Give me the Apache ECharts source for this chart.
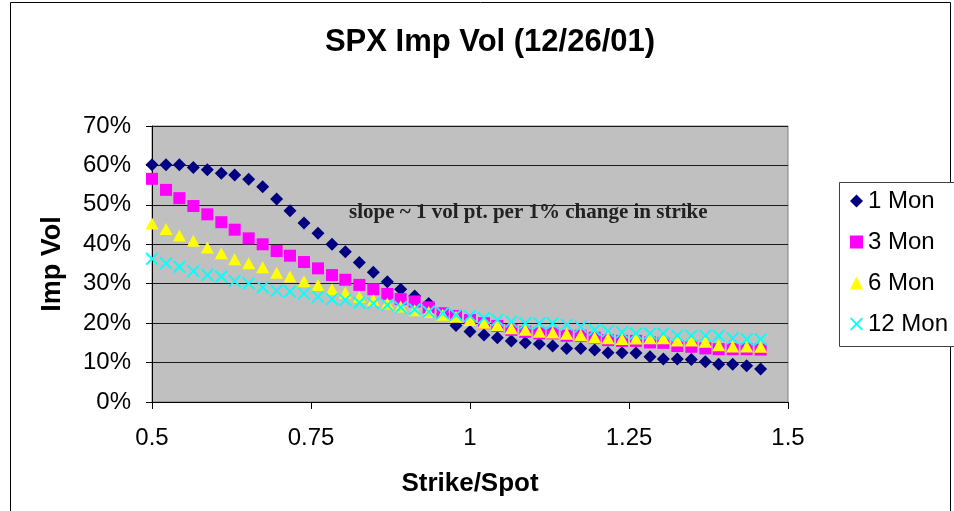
<!DOCTYPE html>
<html>
<head>
<meta charset="utf-8">
<script src="https://cdn.jsdelivr.net/npm/echarts@6/dist/echarts.min.js"></script>
<style>
  html, body { margin: 0; padding: 0; background: #fff; }
  #volChart { width: 954px; height: 511px; }
</style>
</head>
<body>
<div id="volChart"></div>
<script>
// strike / spot (25 pt strikes, spot ~1150)
const strikeSpot = [
  0.500, 0.522, 0.543, 0.565, 0.587, 0.609, 0.630, 0.652, 0.674, 0.696,
  0.717, 0.739, 0.761, 0.783, 0.804, 0.826, 0.848, 0.870, 0.891, 0.913,
  0.935, 0.957, 0.978, 1.000, 1.022, 1.043, 1.065, 1.087, 1.109, 1.130,
  1.152, 1.174, 1.196, 1.217, 1.239, 1.261, 1.283, 1.304, 1.326, 1.348,
  1.370, 1.391, 1.413, 1.435, 1.457
];
// implied vol, in %
const oneMon = [
  60.2, 60.2, 60.2, 59.5, 58.9, 58.0, 57.6, 56.5, 54.6, 51.5,
  48.5, 45.4, 42.8, 40.0, 38.1, 35.4, 32.9, 30.5, 28.6, 26.9,
  25.0, 22.3, 19.4, 17.9, 17.0, 16.3, 15.5, 15.0, 14.7, 14.2,
  13.6, 13.6, 13.2, 12.5, 12.5, 12.4, 11.5, 10.9, 10.9, 10.8,
  10.2, 9.6, 9.6, 9.2, 8.4
];
const threeMon = [
  56.6, 53.8, 51.7, 49.7, 47.6, 45.6, 43.7, 41.5, 40.0, 38.3,
  37.1, 35.5, 33.9, 32.2, 31.0, 29.7, 28.6, 27.4, 26.1, 25.5,
  24.0, 22.5, 21.8, 20.8, 20.0, 19.3, 18.3, 17.8, 17.4, 17.4,
  16.8, 16.8, 16.3, 15.7, 15.5, 15.5, 15.1, 15.0, 14.2, 14.0,
  13.6, 13.4, 13.4, 13.4, 13.3
];
const sixMon = [
  45.3, 43.9, 42.2, 40.9, 39.2, 37.7, 36.2, 35.2, 34.2, 32.8,
  31.8, 30.6, 29.7, 28.6, 27.7, 26.7, 25.9, 25.0, 24.2, 23.3,
  22.8, 22.1, 21.6, 20.8, 20.1, 19.5, 18.7, 18.3, 17.8, 17.6,
  17.3, 17.0, 16.4, 16.2, 16.0, 16.1, 16.2, 16.2, 15.6, 15.6,
  15.3, 14.4, 14.1, 14.1, 14.0
];
const twelveMon = [
  36.3, 35.2, 34.3, 33.2, 32.2, 31.8, 30.7, 30.1, 29.1, 28.2,
  28.0, 27.5, 26.7, 26.1, 25.9, 25.2, 25.0, 24.6, 24.0, 23.5,
  22.9, 22.5, 22.1, 21.8, 21.3, 20.8, 20.4, 20.0, 20.0, 20.0,
  19.6, 19.1, 18.3, 18.0, 17.7, 17.4, 17.4, 17.4, 16.8, 16.8,
  16.8, 16.8, 16.2, 15.9, 15.9
];
const seriesNames = ['1 Mon', '3 Mon', '6 Mon', '12 Mon'];
const xTicks = [0.5, 0.75, 1, 1.25, 1.5];

const sans = 'Liberation Sans, Arial, sans-serif';
const crossPath = 'path://M0,1L1,0L5,4L9,0L10,1L6,5L10,9L9,10L5,6L1,10L0,9L4,5Z';

function pairs(ys) {
  return strikeSpot.map((x, i) => [x, ys[i]]);
}

const option = {
  backgroundColor: '#fff',
  animation: false,
  graphic: [
    {
      type: 'rect',
      shape: { x: 10.5, y: 2.5, width: 940, height: 600 },
      style: { fill: 'none', stroke: '#000', lineWidth: 1 },
      z: -10,
    },
    // legend box runs off the right edge like the original
    {
      type: 'rect',
      shape: { x: 839.5, y: 182.5, width: 200, height: 164 },
      style: { fill: '#fff', stroke: '#404040', lineWidth: 1 },
      z: 1,
    },
    {
      type: 'text',
      x: 490,
      y: 42,
      style: {
        text: 'SPX Imp Vol (12/26/01)',
        font: 'bold 31px ' + sans,
        fill: '#000',
        align: 'center',
        verticalAlign: 'middle',
      },
    },
    {
      type: 'text',
      x: 349,
      y: 213,
      z: 10,
      style: {
        text: 'slope ~ 1 vol pt. per 1% change in strike',
        font: 'bold 21px Liberation Serif, Times New Roman, serif',
        fill: '#222',
        verticalAlign: 'middle',
      },
    },
  ],
  legend: {
    orient: 'vertical',
    left: 839,
    top: 182,
    data: seriesNames,
    itemWidth: 13,
    itemHeight: 13,
    itemGap: 17,
    padding: [7, 10, 10, 11],
    textStyle: { fontFamily: sans, fontSize: 24, color: '#000' },
    z: 5,
  },
  grid: {
    left: 152,
    right: 166,
    top: 126,
    bottom: 109,
    show: true,
    backgroundColor: '#c0c0c0',
    borderColor: '#808080',
    borderWidth: 1,
  },
  xAxis: {
    type: 'value',
    min: 0.5,
    max: 1.5,
    interval: 0.25,
    name: 'Strike/Spot',
    nameLocation: 'middle',
    nameGap: 69,
    nameTextStyle: { fontFamily: sans, fontSize: 26, fontWeight: 'bold', color: '#000' },
    axisLine: { lineStyle: { color: '#000', width: 1 } },
    axisTick: { show: true, inside: false, length: 7, lineStyle: { color: '#000' } },
    axisLabel: {
      margin: 24,
      fontFamily: sans,
      fontSize: 24,
      color: '#000',
      formatter: v => (xTicks.includes(v) ? String(v) : ''),
    },
    splitLine: { show: false },
  },
  yAxis: {
    type: 'value',
    min: 0,
    max: 70,
    interval: 10,
    name: 'Imp Vol',
    nameLocation: 'middle',
    nameRotate: 90,
    nameGap: 86,
    nameTextStyle: { fontFamily: sans, fontSize: 27, fontWeight: 'bold', color: '#000' },
    axisLine: { show: true, lineStyle: { color: '#000', width: 1 } },
    axisTick: { show: true, inside: false, length: 6, lineStyle: { color: '#000' } },
    axisLabel: {
      margin: 21,
      fontFamily: sans,
      fontSize: 24,
      color: '#000',
      formatter: '{value}%',
    },
    splitLine: { show: true, lineStyle: { color: '#1a1a1a', width: 1 } },
  },
  series: [
    {
      name: '1 Mon',
      type: 'scatter',
      symbol: 'diamond',
      symbolSize: 13,
      itemStyle: { color: '#000080', opacity: 1 },
      data: pairs(oneMon),
    },
    {
      name: '3 Mon',
      type: 'scatter',
      symbol: 'rect',
      symbolSize: 12,
      itemStyle: { color: '#ff00ff', opacity: 1 },
      data: pairs(threeMon),
    },
    {
      name: '6 Mon',
      type: 'scatter',
      symbol: 'triangle',
      symbolSize: [13, 12],
      itemStyle: { color: '#ffff00', opacity: 1 },
      data: pairs(sixMon),
    },
    {
      name: '12 Mon',
      type: 'scatter',
      symbol: crossPath,
      symbolSize: 13,
      itemStyle: { color: '#00ffff', opacity: 1 },
      data: pairs(twelveMon),
    },
  ],
};

const myChart = echarts.init(document.getElementById('volChart'), null, { renderer: 'canvas' });
myChart.setOption(option);
</script>
</body>
</html>
